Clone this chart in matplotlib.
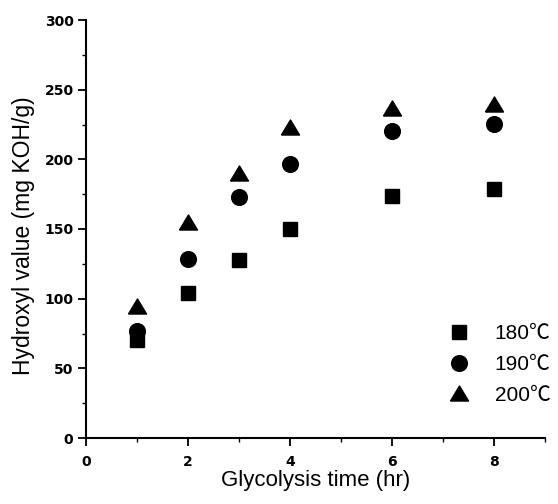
import matplotlib

matplotlib.use("Agg")
import matplotlib.pyplot as plt
from matplotlib.ticker import MultipleLocator

plt.rcParams["font.family"] = ["Liberation Sans", "Noto Sans CJK JP"]

# Data
time_hr = [1, 2, 3, 4, 6, 8]
oh_180 = [70.5, 104, 128, 150, 174, 179]
oh_190 = [77, 128.5, 173, 197, 220.5, 225.5]
oh_200 = [95, 155, 190, 223, 236.5, 239.5]
labels = ["180\u2103", "190\u2103", "200\u2103"]

# flat triangle, centred on its bounding box
tri = [(-1.2, -1.0), (1.2, -1.0), (0.0, 1.0), (-1.2, -1.0)]

fig = plt.figure(figsize=(5.58, 5.04), dpi=100)
ax = fig.add_axes([86 / 558, 66 / 504, 459 / 558, 418 / 504])

ax.plot(time_hr, oh_180, ls="none", marker="s", ms=10.0, color="black", label=labels[0])
ax.plot(time_hr, oh_190, ls="none", marker="o", ms=11.3, color="black", label=labels[1])
ax.plot(time_hr, oh_200, ls="none", marker=tri, ms=13.0, color="black", label=labels[2])

ax.set_xlim(0, 9)
ax.set_ylim(0, 300)
ax.xaxis.set_major_locator(MultipleLocator(2))
ax.xaxis.set_minor_locator(MultipleLocator(1))
ax.yaxis.set_major_locator(MultipleLocator(50))
ax.yaxis.set_minor_locator(MultipleLocator(25))

for side in ["top", "right"]:
    ax.spines[side].set_visible(False)
for side in ["left", "bottom"]:
    ax.spines[side].set_linewidth(1.5)

ax.tick_params(which="major", direction="out", length=6, width=1.3)
ax.tick_params(which="minor", direction="out", length=3, width=1.0)
ax.tick_params(axis="x", which="major", pad=6.5)
ax.tick_params(axis="y", which="major", pad=3)
for lbl in ax.get_xticklabels() + ax.get_yticklabels():
    lbl.set_family("DejaVu Sans")
    lbl.set_fontweight("bold")
    lbl.set_fontsize(10)

ax.set_xlabel("Glycolysis time (hr)", fontsize=16)
ax.set_ylabel("Hydroxyl value (mg KOH/g)", fontsize=16.5)
ax.xaxis.set_label_coords(0.5, -0.076)
ax.yaxis.set_label_coords(-0.112, 0.483)

ax.legend(
    loc="upper left",
    bbox_to_anchor=(449 / 558, 1 - 324 / 504),
    bbox_transform=fig.transFigure,
    frameon=False,
    fontsize=15,
    handlelength=1.0,
    handletextpad=1.2,
    labelspacing=0.57,
    borderpad=0,
    borderaxespad=0,
)

fig.savefig("out.png", dpi=100)
